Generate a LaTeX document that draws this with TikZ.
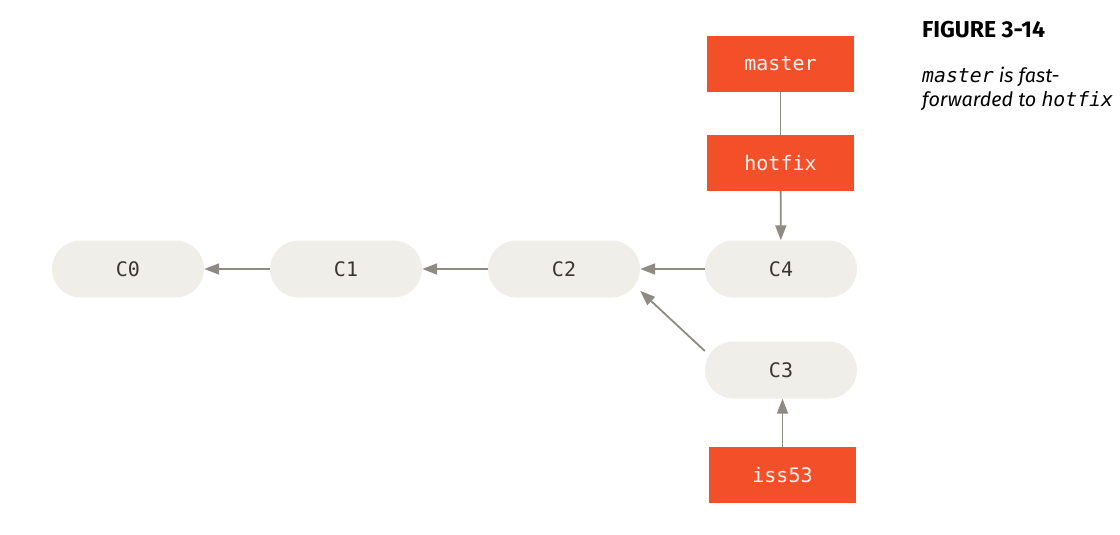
\documentclass[tikz,border=0pt]{standalone}
\usepackage{fontspec}
\setmainfont{Fira Sans}
\setmonofont{DejaVu Sans Mono}
\usetikzlibrary{arrows.meta}
\definecolor{gitred}{HTML}{F34F29}
\definecolor{commitfill}{HTML}{EFEEE8}
\definecolor{linegray}{HTML}{8E8A84}
\definecolor{commitink}{HTML}{3A3633}
\tikzset{
	commit/.style={fill=commitfill, rounded corners=28.5pt, minimum width=152pt,
		minimum height=57pt, inner sep=0pt, text=commitink,
		font=\ttfamily\fontsize{20}{24}\selectfont},
	branch/.style={fill=gitred, minimum width=147pt, minimum height=56pt,
		inner sep=0pt, text=white!94!gitred,
		font=\ttfamily\fontsize{20}{24}\selectfont},
	arr/.style={draw=linegray, line width=1.8pt,
		-{Triangle[length=15pt, width=11pt]}},
	link/.style={draw=linegray, line width=1.8pt}
}
\begin{document}
\begin{tikzpicture}[x=1pt, y=-1pt]
		\useasboundingbox (0,0) rectangle (1120,535);
		% Commits on one line, C3 below C4
		\foreach \name/\lbl/\x/\y in {c0/C0/128/269, c1/C1/346/269, c2/C2/564/269,
			c4/C4/781/269, c3/C3/781/370} {
			\node[commit] (\name) at (\x, \y) {\lbl};
		}
		% Branch pointers
		\node[branch] (master) at (780.5, 64) {master};
		\node[branch] (hotfix) at (780.5, 163) {hotfix};
		\node[branch] (iss53) at (782.5, 475) {iss53};
		% History links
		\draw[arr] (c1) -- (c0);
		\draw[arr] (c2) -- (c1);
		\draw[arr] (c4) -- (c2);
		\draw[arr] (c3.166) -- (c2.344);
		\draw[link] (master) -- (hotfix);
		\draw[arr] (hotfix) -- (c4);
		\draw[arr] (iss53.north) -- (iss53.north |- c3.south);
		% Caption
		\node[anchor=north west, inner sep=0pt, font=\bfseries\fontsize{23}{26}\selectfont]
			(figtitle) at (922, 21) {FIGURE 3-14};
		\node[anchor=north west, inner sep=0pt, align=left,
			font=\itshape\fontsize{19.8}{24}\selectfont]
			(figtext) at (922, 67) {\texttt{master} is fast-\\forwarded to \texttt{hotfix}};
		\end{tikzpicture}
\end{document}
